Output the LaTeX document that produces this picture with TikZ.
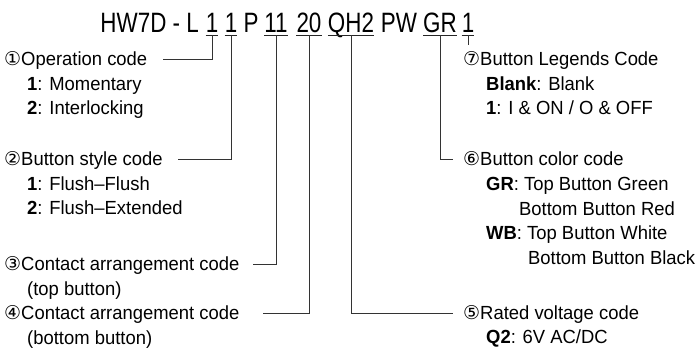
\documentclass[tikz,border=0pt]{standalone}
\usepackage{fontspec}
\setmainfont[FakeStretch=0.97]{Liberation Sans}
\newfontfamily\titlefont[FakeStretch=0.8]{Liberation Sans}
\newfontfamily\circfont{DejaVu Sans}
\usetikzlibrary{calc}
\begin{document}
\begin{tikzpicture}[x=1pt,y=-1pt,
  ttl/.style={font=\titlefont\fontsize{28}{28}\selectfont, inner sep=0pt, anchor=base},
  lbl/.style={font=\fontsize{19}{19}\selectfont, inner sep=0pt, anchor=base west},
  lead/.style={line width=1pt, draw=black!80},
  uline/.style={line width=1pt, draw=black!85}]
\useasboundingbox (0,0) rectangle (699,348);
% title segments
\node[ttl, anchor=base east] (tA) at (199,32.5) {HW7D - L};
\node[ttl] (t1) at (212,32.5) {1};
\node[ttl] (t2) at (231,32.5) {1};
\node[ttl] (tP) at (251,32.5) {P};
\node[ttl] (t3) at (276,32.5) {11};
\node[ttl] (t4) at (309,32.5) {20};
\node[ttl] (t5) at (351,32.5) {QH2};
\node[ttl] (tPW) at (399,32.5) {PW};
\node[ttl] (t6) at (440,32.5) {GR};
\node[ttl] (t7) at (468,32.5) {1};
\foreach \n in {t1,t2,t3,t4,t5,t6,t7}{
  \draw[uline] ($(\n.base west)+(0,2.5)$) -- ($(\n.base east)+(0,2.5)$);
  \coordinate (d\n) at ($(\n.base)+(0,2.5)$);
}
% left column
\node[lbl] (L1) at (4,65.5) {{\circfont ①}Operation code};
\node[lbl] (L1a) at (27,90) {{\bfseries 1}: Momentary};
\node[lbl] (L1b) at (27,114.5) {{\bfseries 2}: Interlocking};
\node[lbl] (L2) at (4,165.5) {{\circfont ②}Button style code};
\node[lbl] (L2a) at (27,190) {{\bfseries 1}: Flush–Flush};
\node[lbl] (L2b) at (27,214.5) {{\bfseries 2}: Flush–Extended};
\node[lbl] (L3) at (4,270.5) {{\circfont ③}Contact arrangement code};
\node[lbl] (L3a) at (27,295) {(top button)};
\node[lbl] (L4) at (4,319.5) {{\circfont ④}Contact arrangement code};
\node[lbl] (L4a) at (27,344) {(bottom button)};
% right column
\node[lbl] (R7) at (463,65.5) {{\circfont ⑦}Button Legends Code};
\node[lbl] (R7a) at (486,90) {{\bfseries Blank}: Blank};
\node[lbl] (R7b) at (486,114.5) {{\bfseries 1}: I \& ON / O \& OFF};
\node[lbl] (R6) at (463,165.5) {{\circfont ⑥}Button color code};
\node[lbl] (R6a) at (486,190.5) {{\bfseries GR}: Top Button Green};
\node[lbl] (R6b) at (519,215) {Bottom Button Red};
\node[lbl] (R6c) at (486,239.5) {{\bfseries WB}: Top Button White};
\node[lbl] (R6d) at (528,264) {Bottom Button Black};
\node[lbl] (R5) at (463,319) {{\circfont ⑤}Rated voltage code};
\node[lbl] (R5a) at (486,343.5) {{\bfseries Q2}: 6V AC/DC};
% leader ends
\coordinate (e1) at (163,59);
\coordinate (e2) at (178,159);
\coordinate (e3) at (253,264.5);
\coordinate (e4) at (263,313);
\coordinate (e5) at (453,313);
\coordinate (e6) at (453,159);
\coordinate (e7) at (468,45);
\draw[lead] (dt1) |- (e1);
\draw[lead] (dt2) |- (e2);
\draw[lead] (dt3) |- (e3);
\draw[lead] (dt4) |- (e4);
\draw[lead] (dt5) |- (e5);
\draw[lead] (dt6) |- (e6);
\draw[lead] (dt7) -- (e7);
\end{tikzpicture}
\end{document}
